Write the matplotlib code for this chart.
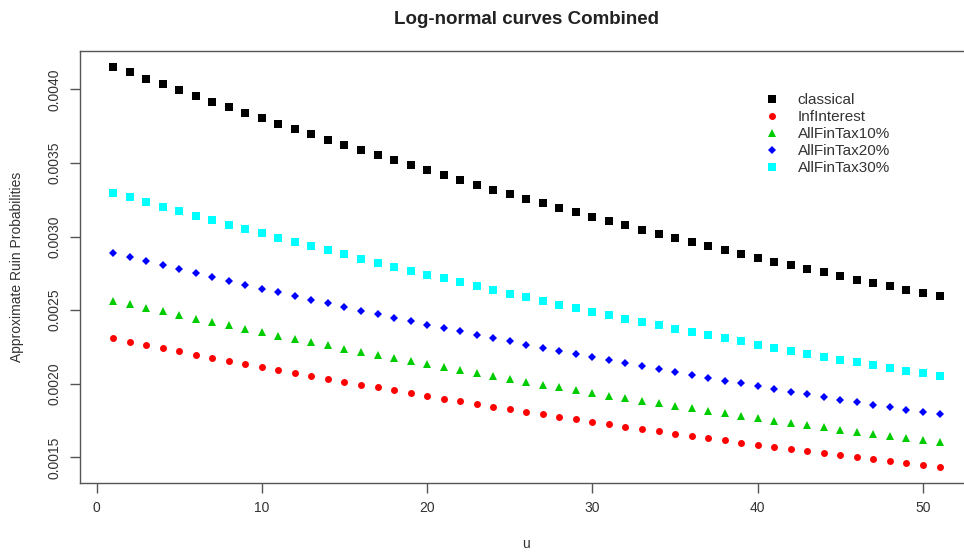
import numpy as np
import matplotlib
matplotlib.use("Agg")
import matplotlib.pyplot as plt

plt.rcParams["font.family"] = ["Liberation Sans", "DejaVu Sans"]

# initial reserve u = 1..51
u = list(range(1, 52))

# approximate ruin probabilities (x 1e-3) for each model
classical = [4.154, 4.114, 4.073, 4.034, 3.994, 3.955, 3.917, 3.879, 3.841, 3.803,
             3.766, 3.729, 3.693, 3.657, 3.622, 3.586, 3.552, 3.517, 3.483, 3.450,
             3.416, 3.383, 3.351, 3.319, 3.287, 3.256, 3.225, 3.194, 3.164, 3.134,
             3.104, 3.075, 3.047, 3.018, 2.990, 2.963, 2.935, 2.909, 2.882, 2.856,
             2.830, 2.805, 2.780, 2.756, 2.731, 2.708, 2.684, 2.661, 2.639, 2.616,
             2.595]
inf_interest = [2.308, 2.286, 2.264, 2.242, 2.220, 2.198, 2.177, 2.156, 2.135, 2.114,
                2.094, 2.074, 2.053, 2.033, 2.014, 1.994, 1.975, 1.956, 1.937, 1.918,
                1.899, 1.881, 1.863, 1.845, 1.827, 1.810, 1.792, 1.775, 1.758, 1.742,
                1.725, 1.709, 1.693, 1.677, 1.661, 1.645, 1.630, 1.615, 1.600, 1.585,
                1.571, 1.556, 1.542, 1.528, 1.514, 1.501, 1.487, 1.474, 1.461, 1.449,
                1.436]
tax10 = [2.565, 2.540, 2.516, 2.491, 2.467, 2.443, 2.420, 2.396, 2.373, 2.350,
         2.327, 2.305, 2.282, 2.260, 2.239, 2.217, 2.196, 2.174, 2.153, 2.133,
         2.112, 2.092, 2.072, 2.052, 2.032, 2.013, 1.994, 1.975, 1.956, 1.938,
         1.920, 1.902, 1.884, 1.866, 1.849, 1.832, 1.815, 1.798, 1.782, 1.766,
         1.750, 1.734, 1.718, 1.703, 1.688, 1.673, 1.658, 1.644, 1.630, 1.616,
         1.602]
tax20 = [2.886, 2.858, 2.831, 2.804, 2.777, 2.750, 2.724, 2.698, 2.672, 2.646,
         2.621, 2.595, 2.570, 2.546, 2.521, 2.497, 2.473, 2.449, 2.425, 2.402,
         2.379, 2.356, 2.333, 2.311, 2.288, 2.266, 2.245, 2.223, 2.202, 2.181,
         2.160, 2.139, 2.119, 2.099, 2.079, 2.059, 2.040, 2.021, 2.002, 1.983,
         1.964, 1.946, 1.928, 1.910, 1.893, 1.875, 1.858, 1.841, 1.825, 1.808,
         1.792]
tax30 = [3.298, 3.266, 3.235, 3.203, 3.172, 3.142, 3.111, 3.081, 3.051, 3.022,
         2.992, 2.963, 2.935, 2.906, 2.878, 2.850, 2.822, 2.795, 2.768, 2.741,
         2.715, 2.689, 2.663, 2.637, 2.612, 2.587, 2.562, 2.537, 2.513, 2.489,
         2.466, 2.442, 2.419, 2.396, 2.374, 2.352, 2.330, 2.308, 2.287, 2.266,
         2.245, 2.224, 2.204, 2.184, 2.164, 2.145, 2.126, 2.107, 2.088, 2.070,
         2.052]

labels = ["classical", "InfInterest", "AllFinTax10%", "AllFinTax20%", "AllFinTax30%"]
series = [classical, inf_interest, tax10, tax20, tax30]
colors = ["black", "#FF0000", "#00CD00", "#0000FF", "#00FFFF"]
markers = ["s", "o", "^", "D", "s"]
sizes = [5.2, 5.0, 5.6, 3.6, 5.2]

fig = plt.figure(figsize=(9.64, 5.52), dpi=100)
W, H = 964, 552
# plot region in pixels (right edge runs past the canvas)
x0, x1, ytop, ybot = 80, 972.6, 50.6, 482.8
ax = fig.add_axes([x0 / W, 1 - ybot / H, (x1 - x0) / W, (ybot - ytop) / H])

for ys, lab, c, m, s in zip(series, labels, colors, markers, sizes):
    ax.plot(u, np.array(ys) * 1e-3, linestyle="none", marker=m, ms=s,
            color=c, markeredgewidth=0, label=lab)

# R-style 4% padding around the data range
allv = np.concatenate([np.array(s) for s in series]) * 1e-3
lo, hi = allv.min(), allv.max()
pad = (hi - lo) * 0.04
ax.set_ylim(lo - pad, hi + pad)
xpad = (max(u) - min(u)) * 0.04
ax.set_xlim(min(u) - xpad, max(u) + xpad)

ax.set_xticks([0, 10, 20, 30, 40, 50])
yt = [0.0015, 0.0020, 0.0025, 0.0030, 0.0035, 0.0040]
ax.set_yticks(yt)
ax.set_yticklabels([f"{v:.4f}" for v in yt], rotation=90, va="center")

axis_col = "#555555"
for sp in ax.spines.values():
    sp.set_color(axis_col)
    sp.set_linewidth(1.0)
ax.tick_params(direction="out", length=7, width=1.0, color=axis_col,
               labelsize=10, labelcolor="#333333")
ax.tick_params(axis="y", pad=6)
ax.tick_params(axis="x", pad=6)

ax.set_xlabel("u", fontsize=10, color="#333333", labelpad=16)
ax.set_ylabel("Approximate Ruin Probabilities", fontsize=10, color="#333333", labelpad=17)
ax.set_title("Log-normal curves Combined", fontsize=13.5, fontweight="bold",
             color="#222222", pad=19)

ax.legend(loc="upper left", bbox_to_anchor=(765 / W, 1 - 93 / H),
          bbox_transform=fig.transFigure, frameon=False, fontsize=11,
          handlelength=0.95, handletextpad=1.2, labelspacing=0.2,
          borderpad=0, borderaxespad=0, labelcolor="#333333")

fig.savefig("out.png", dpi=100)
